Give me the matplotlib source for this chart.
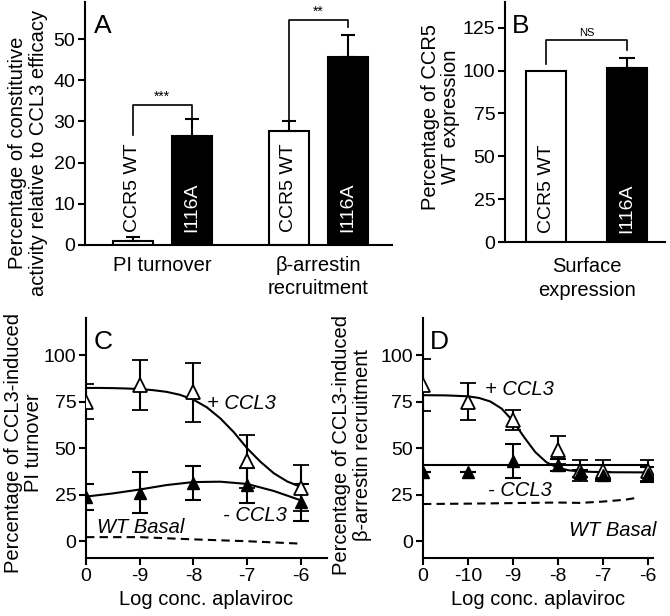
import matplotlib
matplotlib.use("Agg")
from matplotlib import pyplot as plt

plt.rcParams['font.family'] = ['Liberation Sans', 'DejaVu Sans']
plt.rcParams['axes.linewidth'] = 1.5

# ---- panel A: constitutive activity ----
a_groups = ['PI turnover', 'β-arrestin\nrecruitment']
a_pos = [0, 1, 2.64, 3.64]
a_vals = [0.9, 26.4, 27.7, 45.6]
a_errs = [1.1, 4.3, 2.4, 5.3]
a_names = ['CCR5 WT', 'I116A', 'CCR5 WT', 'I116A']
a_colors = ['white', 'black', 'white', 'black']

# ---- panel B: surface expression ----
b_pos = [0, 1]
b_vals = [100, 101.7]
b_errs = [0, 5.4]
b_names = ['CCR5 WT', 'I116A']

# ---- panel C: PI turnover vs aplaviroc ----
c_x = [-10, -9, -8, -7, -6]
c_plus = [75, 84, 80, 43, 28.5]
c_plus_err = [9.5, 13.5, 15.8, 14.3, 12.5]
c_minus = [23.7, 26, 31.2, 30, 21]
c_minus_err = [7, 11, 9.3, 9.3, 10]
c_fit_x = [-10, -9.75, -9.5, -9.25, -9, -8.75, -8.5, -8.25, -8, -7.75, -7.5,
           -7.25, -7, -6.75, -6.5, -6.25, -6]
c_fit_plus = [82.4, 82.4, 82.3, 82.1, 81.8, 81.2, 80.3, 78.7, 76.1, 72.0, 66.1,
              58.7, 50.0, 42.7, 36.5, 32.1, 29.2]
c_fit_minus_x = [-10, -9.5, -9, -8.5, -8, -7.5, -7, -6.5, -6]
c_fit_minus = [24, 25.7, 27.8, 30.2, 31.8, 32.0, 30.8, 27.0, 22.0]
c_basal_x = [-10, -9, -8, -7, -6]
c_basal = [2.2, 2.2, 1.0, 0, -1.3]
c_ticks = [-10, -9, -8, -7, -6]
c_ticklabels = ['0', '-9', '-8', '-7', '-6']

# ---- panel D: beta-arrestin recruitment vs aplaviroc ----
d_x = [-11, -10, -9, -8, -7.5, -7, -6]
d_plus = [84, 75, 65, 49, 38, 38, 38]
d_plus_err = [14, 10, 5.4, 7.4, 5.5, 5.5, 5.5]
d_minus = [37.3, 37.3, 43, 41, 36.5, 35.4, 36]
d_minus_err = [0, 0, 9, 3, 2, 2, 4]
d_fit_x = [-11, -10.5, -10, -9.75, -9.5, -9.25, -9, -8.75, -8.5, -8.25, -8,
           -7.75, -7.5, -7, -6]
d_fit_plus = [78.5, 78.4, 77.9, 77.0, 75.1, 71.3, 64.7, 56.0, 47.9, 42.4, 39.5,
              38.1, 37.5, 37.1, 37.0]
d_fit_minus_x = [-11, -6]
d_fit_minus = [41.1, 41.1]
d_basal_x = [-11, -10, -9, -8, -7.5, -7, -6.5, -6.2]
d_basal = [20, 20.2, 20.5, 20.8, 20.6, 21.3, 22.3, 23.5]
d_ticks = [-11, -10, -9, -8, -7, -6]
d_ticklabels = ['0', '-10', '-9', '-8', '-7', '-6']

FS = 14.5


def style(ax):
    ax.spines['top'].set_visible(False)
    ax.spines['right'].set_visible(False)
    ax.tick_params(axis='both', direction='out', length=5, width=1.5,
                   labelsize=14, pad=2)


fig = plt.figure(figsize=(6.7, 6.16), dpi=100)

# panel A
axA = fig.add_axes([0.1269, 0.6023, 0.4582, 0.3945])
style(axA)
axA.bar(a_pos, a_vals, width=0.68, color=a_colors, edgecolor='black', linewidth=1.5)
axA.errorbar(a_pos, a_vals, yerr=[[0] * 4, a_errs], fmt='none', ecolor='black',
             elinewidth=1.5, capsize=5, capthick=1.5)
for p, n, c in zip(a_pos, a_names, a_colors):
    axA.text(p, 3.2, n, rotation=90, ha='center', va='bottom', fontsize=14,
             color='white' if c == 'black' else 'black')
axA.set_xlim(-0.81, 4.39)
axA.set_ylim(0, 59)
axA.set_yticks([0, 10, 20, 30, 40, 50])
axA.set_xticks([0.5, 3.14])
axA.set_xticklabels(a_groups, fontsize=FS, linespacing=1.25)
axA.tick_params(axis='x', length=0, pad=8)
axA.set_ylabel('Percentage of constitutive\nactivity relative to CCL3 efficacy',
               fontsize=FS, linespacing=1.1)
axA.yaxis.set_label_coords(-0.122, 0.38)
# significance brackets
axA.plot([0, 0, 1, 1], [26.6, 33.9, 33.9, 30.7], color='black', lw=1.2, clip_on=False)
axA.text(0.5, 34.2, '***', ha='center', va='bottom', fontsize=10)
axA.plot([2.64, 2.64, 3.64, 3.64], [30.3, 54.7, 54.7, 53.0], color='black', lw=1.2,
         clip_on=False)
axA.text(3.14, 55.0, '**', ha='center', va='bottom', fontsize=10)
axA.text(0.03, 0.95, 'A', transform=axA.transAxes, ha='left', va='top', fontsize=19)

# panel B
axB = fig.add_axes([0.7537, 0.6071, 0.2388, 0.3896])
style(axB)
axB.bar(b_pos, b_vals, width=0.5, color=['white', 'black'], edgecolor='black',
        linewidth=1.5)
axB.errorbar(b_pos[1:], b_vals[1:], yerr=[[0], b_errs[1:]], fmt='none',
             ecolor='black', elinewidth=1.5, capsize=6, capthick=1.5)
axB.text(0, 5.3, b_names[0], rotation=90, ha='center', va='bottom', fontsize=14)
axB.text(1, 5.3, b_names[1], rotation=90, ha='center', va='bottom', fontsize=14,
         color='white')
axB.set_xlim(-0.51, 1.47)
axB.set_ylim(0, 140)
axB.set_yticks([0, 25, 50, 75, 100, 125])
axB.set_xticks([0.5])
axB.set_xticklabels(['Surface\nexpression'], fontsize=FS, linespacing=1.3)
axB.tick_params(axis='x', length=0, pad=11)
axB.set_ylabel('Percentage of CCR5\nWT expression', fontsize=FS, linespacing=1.1)
axB.yaxis.set_label_coords(-0.28, 0.52)
axB.plot([0, 0, 1, 1], [104, 118, 118, 112], color='black', lw=1.2, clip_on=False)
axB.text(0.5, 119, 'NS', ha='center', va='bottom', fontsize=8)
axB.text(0.04, 0.95, 'B', transform=axB.transAxes, ha='left', va='top', fontsize=19)

# panel C
axC = fig.add_axes([0.1284, 0.0942, 0.3597, 0.3896])
style(axC)
axC.plot(c_fit_x, c_fit_plus, color='black', lw=1.5, zorder=2)
axC.plot(c_fit_minus_x, c_fit_minus, color='black', lw=1.5, zorder=2)
axC.plot(c_basal_x, c_basal, color='black', lw=1.5, ls=(0, (4, 2.5)), zorder=2)
axC.errorbar(c_x, c_plus, yerr=c_plus_err, fmt='^', ms=10, mfc='white', mec='black',
             mew=1.3, ecolor='black', elinewidth=1.5, capsize=6, capthick=1.5,
             zorder=3)
axC.errorbar(c_x, c_minus, yerr=c_minus_err, fmt='^', ms=8, mfc='black', mec='black',
             ecolor='black', elinewidth=1.5, capsize=6, capthick=1.5, zorder=3)
axC.set_xlim(-10, -5.51)
axC.set_ylim(-9, 120)
axC.set_yticks([0, 25, 50, 75, 100])
axC.set_xticks(c_ticks)
axC.set_xticklabels(c_ticklabels)
axC.set_xlabel('Log conc. aplaviroc', fontsize=FS, labelpad=4)
axC.set_ylabel('Percentage of CCL3-induced\nPI turnover', fontsize=FS, linespacing=1.1)
axC.yaxis.set_label_coords(-0.178, 0.48)
axC.text(-7.75, 74, '+ CCL3', style='italic', fontsize=FS, ha='left', va='center')
axC.text(-6.25, 14, '- CCL3', style='italic', fontsize=FS, ha='right', va='center')
axC.text(-9.8, 7.5, 'WT Basal', style='italic', fontsize=FS, ha='left', va='center')
axC.text(0.03, 0.95, 'C', transform=axC.transAxes, ha='left', va='top', fontsize=19)

# panel D
axD = fig.add_axes([0.6313, 0.0942, 0.3433, 0.3896])
style(axD)
axD.plot(d_fit_x, d_fit_plus, color='black', lw=1.5, zorder=2)
axD.plot(d_fit_minus_x, d_fit_minus, color='black', lw=1.5, zorder=2)
axD.plot(d_basal_x, d_basal, color='black', lw=1.5, ls=(0, (4, 2.5)), zorder=2)
axD.errorbar(d_x, d_plus, yerr=d_plus_err, fmt='^', ms=10, mfc='white', mec='black',
             mew=1.3, ecolor='black', elinewidth=1.5, capsize=6, capthick=1.5,
             zorder=3)
axD.errorbar(d_x, d_minus, yerr=d_minus_err, fmt='^', ms=8, mfc='black', mec='black',
             ecolor='black', elinewidth=1.5, capsize=6, capthick=1.5, zorder=3)
axD.set_xlim(-11, -5.88)
axD.set_ylim(-9, 120)
axD.set_yticks([0, 25, 50, 75, 100])
axD.set_xticks(d_ticks)
axD.set_xticklabels(d_ticklabels)
axD.set_xlabel('Log conc. aplaviroc', fontsize=FS, labelpad=4)
axD.set_ylabel('Percentage of CCL3-induced\nβ-arrestin recruitment', fontsize=FS,
               linespacing=1.1)
axD.yaxis.set_label_coords(-0.222, 0.47)
axD.text(-9.62, 81.4, '+ CCL3', style='italic', fontsize=FS, ha='left', va='center')
axD.text(-9.56, 27.5, '- CCL3', style='italic', fontsize=FS, ha='left', va='center')
axD.text(-5.8, 6, 'WT Basal', style='italic', fontsize=FS, ha='right', va='center')
axD.text(0.03, 0.95, 'D', transform=axD.transAxes, ha='left', va='top', fontsize=19)

fig.savefig('out.png', dpi=100)
